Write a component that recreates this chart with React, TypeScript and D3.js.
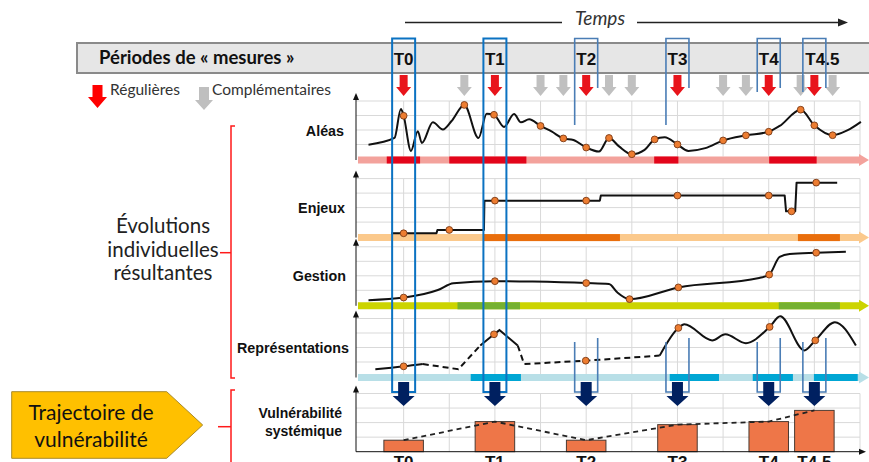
import React from 'react';
import * as d3 from 'd3';

// ---------- data ----------
const timeLabels = ['T0', 'T1', 'T2', 'T3', 'T4', 'T4.5'];
const timeSteps = [1, 3, 5, 7, 9, 10];
const complementarySteps = [2.33, 4, 4.5, 5.5, 6, 8, 8.5, 9.7, 10.4];

// [t, value, isDot]
const aleasCurve: number[][] = [
  [0.23, 0.99, 0], [0.8, 1.45, 0], [0.94, 3.45, 0], [1.0, 2.98, 1], [1.16, 0.56, 0], [1.31, 1.92, 0],
  [1.4, 1.1, 0], [1.64, 2.53, 0], [1.86, 2.04, 0], [2.05, 2.62, 0], [2.33, 3.73, 1], [2.64, 1.45, 0],
  [2.82, 3.12, 0], [2.98, 3.05, 1], [3.2, 2.21, 0], [3.42, 3.1, 0], [3.57, 2.53, 0], [3.75, 2.74, 0],
  [4.0, 2.28, 1], [4.24, 1.9, 0], [4.5, 1.42, 1], [4.72, 1.31, 0], [5.0, 0.79, 1], [5.28, 0.51, 0],
  [5.5, 1.45, 1], [5.72, 0.87, 0], [6.0, 0.33, 1], [6.28, 0.63, 0], [6.5, 1.35, 1], [6.72, 1.5, 0],
  [7.0, 1.0, 1], [7.24, 0.56, 0], [7.61, 0.75, 0], [8.0, 1.28, 1], [8.5, 1.63, 1], [9.0, 1.88, 1],
  [9.24, 2.28, 0], [9.7, 3.4, 1], [10.0, 2.32, 1], [10.4, 1.64, 1], [10.72, 1.97, 0], [11.02, 2.56, 0],
];

const enjeuxSteps: number[][] = [
  [0.73, 0.23], [1.72, 0.23], [1.74, 0.46], [2.76, 0.46], [2.77, 2.48], [5.3, 2.48], [5.32, 2.83],
  [9.35, 2.83], [9.38, 1.74], [9.58, 1.74], [9.61, 3.72], [10.5, 3.72],
];
const enjeuxDots: number[][] = [
  [1, 0.23], [2, 0.46], [3, 2.48], [5, 2.48], [7, 2.83], [9, 2.83], [9.5, 1.74], [10.04, 3.72],
];

const gestionCurve: number[][] = [
  [0.23, 0.32, 0], [1.0, 0.5, 1], [1.75, 1.02, 0], [2.09, 1.49, 0], [3.0, 1.63, 1], [3.83, 1.6, 0],
  [5.0, 1.5, 1], [5.5, 1.43, 0], [5.68, 0.86, 0], [5.95, 0.39, 1], [7.02, 1.2, 1], [8.79, 1.85, 0],
  [9.01, 2.08, 1], [9.24, 3.3, 0], [9.46, 3.5, 0], [10.04, 3.59, 1], [10.69, 3.66, 0],
];

const repSolidA: number[][] = [[0.38, 0.5], [1.0, 0.7], [1.42, 0.86]];
const repDashedB: number[][] = [[1.42, 0.86], [2.2, 0.5], [2.68, 2.14]];
const repSolidC: number[][] = [[2.68, 2.14], [2.98, 2.91], [3.1, 3.2], [3.5, 2.14]];
const repDashedD: number[][] = [[3.5, 2.14], [3.64, 0.86], [4.99, 1.09], [6.61, 1.44]];
const repSolidE: number[][] = [
  [6.61, 1.44], [7.02, 3.35], [7.15, 3.6], [7.76, 2.49], [8.05, 2.91], [8.5, 2.3], [9.02, 3.42],
  [9.25, 4.15], [9.78, 1.8], [10.02, 2.49], [10.45, 3.75], [10.91, 2.14],
];
const repDots: number[][] = [[1, 0.7], [2.98, 2.91], [4.99, 1.09], [7.02, 3.35], [9.02, 3.42], [10.02, 2.49]];

const aleasBand = [[0.63, 1.36], [2.0, 3.69], [6.49, 7.02], [9.01, 10.05]];
const enjeuxBand = [[2.75, 5.74], [9.64, 10.56]];
const gestionBand = [[2.18, 3.55], [9.22, 10.56]];
const repBand = [[2.47, 3.57], [6.83, 7.91], [8.65, 9.53], [9.99, 10.95]];

const vulnValues = [0.79, 2.07, 0.79, 1.86, 2.07, 2.84];

// ---------- layout ----------
const x = d3.scaleLinear().domain([0, 11]).range([358, 860]);
const AXIS_X = 356;
const ROW = 14.5;

const panels = [
  { label: 'Aléas', top: 101, labelX: 344, light: '#f3a29c', dark: '#e3051b', band: aleasBand },
  { label: 'Enjeux', top: 178.6, labelX: 345, light: '#fbc98c', dark: '#e96e0c', band: enjeuxBand },
  { label: 'Gestion', top: 246.8, labelX: 346, light: '#ccd400', dark: '#75b130', band: gestionBand },
  { label: 'Représentations', top: 318.5, labelX: 349, light: '#b8dfe7', dark: '#00a6d4', band: repBand },
];
const yFor = (top: number) => d3.scaleLinear().domain([0, 4]).range([top + 4 * ROW, top]);

const VULN_TOP = 393.5;
const VULN_BASE = 451.7;
const yV = d3.scaleLinear().domain([0, 4]).range([VULN_BASE, VULN_TOP]);

function downArrow(cx: number, top: number, bottom: number, shaftW: number, headW: number, headH: number) {
  const hs = shaftW / 2, hh = headW / 2, yh = bottom - headH;
  return `M${cx - hs},${top}H${cx + hs}V${yh}H${cx + hh}L${cx},${bottom}L${cx - hh},${yh}H${cx - hs}Z`;
}

const SANS = "'Liberation Sans', Arial, sans-serif";
const NARROW = "'Liberation Sans Narrow', 'Liberation Sans', Arial, sans-serif";
const CAL = "Lato, 'Open Sans', sans-serif";

function Dot({ cx, cy }: { cx: number; cy: number }) {
  return <circle cx={cx} cy={cy} r={3.4} fill="#ed7d31" stroke="#7a3a16" strokeWidth={0.9} />;
}

export default function App() {
  const lineCR = (y: d3.ScaleLinear<number, number>) =>
    d3.line<number[]>().x(d => x(d[0])).y(d => y(d[1])).curve(d3.curveCatmullRom.alpha(0.5));
  const lineMono = (y: d3.ScaleLinear<number, number>) =>
    d3.line<number[]>().x(d => x(d[0])).y(d => y(d[1])).curve(d3.curveMonotoneX);
  const lineLin = (y: d3.ScaleLinear<number, number>) =>
    d3.line<number[]>().x(d => x(d[0])).y(d => y(d[1]));

  const gridT = d3.range(1, 12);
  const gridV = [1, 2, 3, 4];

  const renderPanel = (p: typeof panels[number], i: number) => {
    const y = yFor(p.top);
    const bc = y(0) + 1;
    const bandH = 7;
    const x0 = x(0), x1 = x(11) - 1;
    return (
      <g key={p.label}>
        {gridV.map(v => (
          <line key={'h' + v} x1={AXIS_X} x2={x(11)} y1={y(v)} y2={y(v)} stroke="#d9d9d9" strokeWidth={1} />
        ))}
        {gridT.map(t => (
          <line key={'v' + t} x1={x(t)} x2={x(t)} y1={p.top} y2={bc - bandH / 2} stroke="#d9d9d9" strokeWidth={1} />
        ))}
        <line x1={AXIS_X} x2={AXIS_X} y1={bc} y2={p.top - 3} stroke="#111" strokeWidth={1} />
        <path d={`M${AXIS_X - 3},${p.top - 1}L${AXIS_X},${p.top - 8}L${AXIS_X + 3},${p.top - 1}Z`} fill="#111" />
        <path
          d={`M${x0},${bc - bandH / 2}H${x1}V${bc - 6}L${x1 + 10},${bc}L${x1},${bc + 6}V${bc + bandH / 2}H${x0}Z`}
          fill={p.light}
        />
        {p.band.map((s, k) => (
          <rect key={k} x={x(s[0])} y={bc - bandH / 2} width={x(s[1]) - x(s[0])} height={bandH} fill={p.dark} />
        ))}
        <text x={p.labelX} y={y(2) + 5.5} textAnchor="end" fontFamily={SANS} fontWeight="bold" fontSize={14.3} fill="#111">
          {p.label}
        </text>
        {i === 0 && (
          <g>
            <path d={lineMono(y)(aleasCurve) || ''} fill="none" stroke="#111" strokeWidth={2} />
            {aleasCurve.filter(d => d[2]).map((d, k) => <Dot key={k} cx={x(d[0])} cy={y(d[1])} />)}
          </g>
        )}
        {i === 1 && (
          <g>
            <path d={lineLin(y)(enjeuxSteps) || ''} fill="none" stroke="#111" strokeWidth={2} strokeLinejoin="round" />
            {enjeuxDots.map((d, k) => <Dot key={k} cx={x(d[0])} cy={y(d[1])} />)}
          </g>
        )}
        {i === 2 && (
          <g>
            <path d={lineMono(y)(gestionCurve) || ''} fill="none" stroke="#111" strokeWidth={2} />
            {gestionCurve.filter(d => d[2]).map((d, k) => <Dot key={k} cx={x(d[0])} cy={y(d[1])} />)}
          </g>
        )}
        {i === 3 && (
          <g fill="none" stroke="#111" strokeWidth={2}>
            <path d={lineCR(y)(repSolidA) || ''} />
            <path d={lineLin(y)(repDashedB) || ''} strokeDasharray="6,4" />
            <path d={lineLin(y)(repSolidC) || ''} />
            <path d={lineLin(y)(repDashedD) || ''} strokeDasharray="6,4" />
            <path d={lineMono(y)(repSolidE) || ''} />
            {repDots.map((d, k) => <Dot key={k} cx={x(d[0])} cy={y(d[1])} />)}
          </g>
        )}
      </g>
    );
  };

  const barW = x(0.866) - x(0);
  const vulnLine = d3.line<number>().x((_, k) => x(timeSteps[k])).y(v => yV(v));
  const boxLeftEnd = [392, 392, 125, 125, 92, 92];

  return (
    <svg width={869} height={462} style={{ position: 'absolute', left: 0, top: 0, background: '#fff' }}>
      <rect x={0} y={0} width={869} height={462} fill="#fff" />
      {/* Temps */}
      <g stroke="#222" strokeWidth={1.3}>
        <line x1={405} x2={562} y1={22.5} y2={22.5} />
        <line x1={637} x2={840} y1={22.5} y2={22.5} />
      </g>
      <path d="M838,18.5L848,22.5L838,26.5Z" fill="#222" />
      <text x={600} y={24.5} textAnchor="middle" fontFamily={CAL} fontStyle="italic" fontSize={19} fill="#333">Temps</text>

      {/* grey bar */}
      <rect x={77} y={43} width={800} height={30} fill="#e6e6e6" stroke="#8a8a8a" strokeWidth={2} />
      <text x={99} y={64} fontFamily={CAL} fontWeight="bold" fontSize={18.5} fill="#111">Périodes de « mesures »</text>
      {timeLabels.map((l, k) => (
        <text key={l} x={k === 5 ? x(timeSteps[k]) - 9 : x(timeSteps[k])} y={65}
          textAnchor={k === 5 ? 'start' : 'middle'} fontFamily={NARROW} fontWeight="bold" fontSize={17} fill="#111">{l}</text>
      ))}

      {/* measurement arrows */}
      {complementarySteps.map((t, k) => (
        <path key={'g' + k} d={downArrow(x(t), 75, 96, 8, 15, 9)} fill="#c0c0c0" />
      ))}
      {timeSteps.map((t, k) => (
        <path key={'r' + k} d={downArrow(x(t), 75, 96, 8, 15, 9)} fill="#e8141b" />
      ))}

      {/* legend */}
      <path d={downArrow(97.5, 85, 108, 10, 19, 11)} fill="#ff0000" />
      <text x={110} y={95} fontFamily={CAL} fontSize={15.5} fill="#333">Régulières</text>
      <path d={downArrow(204, 87, 110, 10, 18, 10)} fill="#bfbfbf" />
      <text x={212} y={95} fontFamily={CAL} fontSize={15.5} fill="#333">Complémentaires</text>

      {/* left side */}
      <g fontFamily={CAL} fontSize={20.5} fill="#222" textAnchor="middle">
        <text x={163} y={233}>Évolutions</text>
        <text x={163} y={256.5}>individuelles</text>
        <text x={163} y={280}>résultantes</text>
      </g>
      <g stroke="#ff1a1a" strokeWidth={1.5} fill="none">
        <path d="M235,126H231V378H235" />
        <path d="M231,252.7H220" />
        <path d="M235,390H231V470" />
        <path d="M231,426.7H218" />
      </g>
      <path d="M11.7,391.7H166.7L202.7,425L166.7,458.3H11.7Z" fill="#ffc000" stroke="#a88a2a" strokeWidth={1} />
      <g fontFamily={CAL} fontSize={21} fill="#111" textAnchor="middle">
        <text x={91} y={420}>Trajectoire de</text>
        <text x={91} y={447}>vulnérabilité</text>
      </g>

      {/* panels */}
      {panels.map(renderPanel)}

      {/* vulnerability panel */}
      <g>
        {gridV.map(v => (
          <line key={'vh' + v} x1={AXIS_X} x2={x(11)} y1={yV(v)} y2={yV(v)} stroke="#d9d9d9" />
        ))}
        {gridT.map(t => (
          <line key={'vv' + t} x1={x(t)} x2={x(t)} y1={VULN_TOP} y2={VULN_BASE} stroke="#d9d9d9" />
        ))}
        {vulnValues.map((v, k) => (
          <rect key={k} x={x(timeSteps[k]) - barW / 2} y={yV(v)} width={barW} height={yV(0) - yV(v)}
            fill="#ee7648" stroke="#4a3a32" strokeWidth={1} />
        ))}
        <path d={vulnLine(vulnValues) || ''} fill="none" stroke="#222" strokeWidth={1.8} strokeDasharray="5,4" />
        <line x1={AXIS_X} x2={AXIS_X} y1={VULN_BASE} y2={VULN_TOP - 2} stroke="#111" />
        <path d={`M${AXIS_X - 3},${VULN_TOP - 1}L${AXIS_X},${VULN_TOP - 8}L${AXIS_X + 3},${VULN_TOP - 1}Z`} fill="#111" />
        <line x1={AXIS_X} x2={860} y1={VULN_BASE} y2={VULN_BASE} stroke="#111" />
        <path d={`M859,${VULN_BASE - 3}L866,${VULN_BASE}L859,${VULN_BASE + 3}Z`} fill="#111" />
        <text x={342} y={418} textAnchor="end" fontFamily={SANS} fontWeight="bold" fontSize={14} fill="#111">Vulnérabilité</text>
        <text x={342} y={436} textAnchor="end" fontFamily={SANS} fontWeight="bold" fontSize={14} fill="#111">systémique</text>
      </g>

      {/* measurement boxes */}
      {timeSteps.map((t, k) => {
        const cx = x(t);
        const l = cx - 11.5, r = cx + 11.5;
        if (k < 2) {
          return (
            <path key={'b' + k} d={`M${l},392V38.5H${r}V392Z`} fill="none" stroke="#0b72c2" strokeWidth={2} />
          );
        }
        return (
          <g key={'b' + k} fill="none" stroke="#4a7db5" strokeWidth={1.6}>
            <path d={`M${l},${boxLeftEnd[k]}V38.5H${r}V88`} />
            <path d={`M${l},342V392H${r}V338`} />
          </g>
        );
      })}
      {timeSteps.map((t, k) => (
        <path key={'n' + k} d={downArrow(x(t), 382, 406, 11, 22, 10)} fill="#002060" />
      ))}

      {/* bottom labels */}
      {timeLabels.map((l, k) => (
        <text key={'bl' + l} x={x(timeSteps[k])} y={468} textAnchor="middle" fontFamily={NARROW} fontWeight="bold" fontSize={17} fill="#111">{l}</text>
      ))}
    </svg>
  );
}
